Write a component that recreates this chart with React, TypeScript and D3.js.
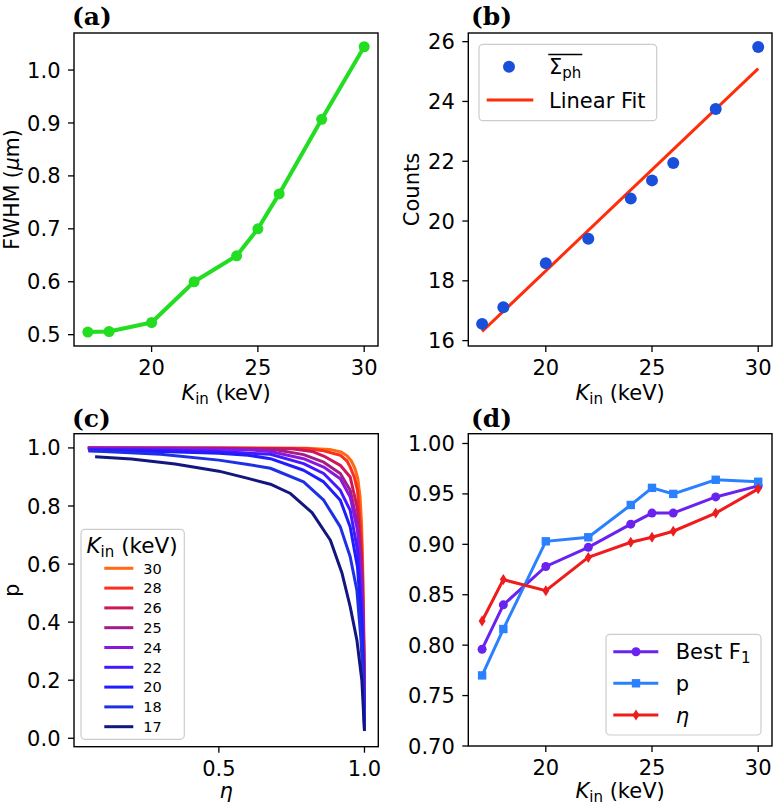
import React from 'react';
import * as d3 from 'd3';

// ---------------- DATA ----------------
const kin = [17, 18, 20, 22, 24, 25, 26, 28, 30];
const fwhm = [0.505, 0.506, 0.523, 0.6, 0.649, 0.7, 0.766, 0.907, 1.044];
const counts = [16.56, 17.12, 18.59, 19.41, 20.75, 21.36, 21.94, 23.75, 25.82];
const bestF1 = [0.796, 0.84, 0.878, 0.897, 0.92, 0.931, 0.931, 0.947, 0.958];
const precision = [0.77, 0.816, 0.903, 0.907, 0.939, 0.956, 0.95, 0.964, 0.962];
const efficiency = [0.824, 0.865, 0.854, 0.887, 0.902, 0.907, 0.913, 0.931, 0.955];

const curveEnergies = [30, 28, 26, 25, 24, 22, 20, 18, 17];
const curveColors = ['#ff6a12', '#fb2f1e', '#cc1858', '#a21d88', '#8a18dc', '#4419ff', '#1d1dff', '#1e30e6', '#12167e'];

// [eta, p] pairs
const prK30 = [[0.05, 1.0], [0.5, 1.0], [0.8, 0.999], [0.88, 0.995], [0.92, 0.986], [0.94, 0.973], [0.955, 0.955], [0.967, 0.93], [0.977, 0.895], [0.985, 0.83], [0.99, 0.74], [0.995, 0.55], [1.0, 0.21]];
const prK28 = [[0.05, 1.0], [0.5, 1.0], [0.8, 0.998], [0.86, 0.99], [0.917, 0.975], [0.94, 0.955], [0.951, 0.934], [0.965, 0.9], [0.976, 0.854], [0.99, 0.682], [0.996, 0.45], [1.0, 0.18]];
const prK26 = [[0.05, 1.0], [0.5, 0.999], [0.75, 0.997], [0.82, 0.988], [0.86, 0.972], [0.917, 0.94], [0.951, 0.9], [0.976, 0.79], [0.99, 0.62], [0.996, 0.4], [1.0, 0.15]];
const prK25 = [[0.05, 1.0], [0.5, 0.998], [0.7, 0.993], [0.791, 0.977], [0.86, 0.951], [0.917, 0.912], [0.951, 0.854], [0.976, 0.74], [0.99, 0.58], [0.996, 0.38], [1.0, 0.12]];
const prK24 = [[0.05, 0.999], [0.4, 0.998], [0.6, 0.994], [0.677, 0.988], [0.791, 0.963], [0.86, 0.934], [0.917, 0.894], [0.951, 0.831], [0.976, 0.717], [0.99, 0.545], [0.996, 0.35], [1.0, 0.1]];
const prK22 = [[0.052, 0.995], [0.3, 0.993], [0.5, 0.988], [0.677, 0.978], [0.791, 0.946], [0.86, 0.912], [0.917, 0.854], [0.951, 0.785], [0.976, 0.648], [0.99, 0.453], [0.996, 0.28], [1.0, 0.06]];
const prK20 = [[0.052, 0.99], [0.3, 0.988], [0.5, 0.982], [0.6, 0.975], [0.677, 0.963], [0.791, 0.923], [0.86, 0.883], [0.917, 0.82], [0.951, 0.728], [0.976, 0.59], [0.99, 0.397], [0.996, 0.22], [1.0, 0.04]];
const prK18 = [[0.052, 0.99], [0.3, 0.978], [0.5, 0.958], [0.6, 0.943], [0.677, 0.93], [0.791, 0.883], [0.86, 0.82], [0.917, 0.728], [0.951, 0.625], [0.974, 0.51], [0.988, 0.338], [0.997, 0.166], [1.0, 0.03]];
const prK17 = [[0.075, 0.97], [0.2, 0.962], [0.35, 0.945], [0.5, 0.92], [0.6, 0.895], [0.677, 0.875], [0.746, 0.843], [0.82, 0.777], [0.883, 0.682], [0.923, 0.568], [0.951, 0.453], [0.974, 0.338], [0.991, 0.2], [1.0, 0.025]];
const prCurves = [prK30, prK28, prK26, prK25, prK24, prK22, prK20, prK18, prK17];

const ticksA_x = [20, 25, 30];
const ticksA_y = [0.5, 0.6, 0.7, 0.8, 0.9, 1.0];
const ticksB_y = [16, 18, 20, 22, 24, 26];
const ticksC_x = [0.5, 1.0];
const ticksC_y = [0.0, 0.2, 0.4, 0.6, 0.8, 1.0];
const ticksD_y = [0.7, 0.75, 0.8, 0.85, 0.9, 0.95, 1.0];

// ---------------- LAYOUT ----------------
const FONT = 'DejaVu Sans';
const TICK_FS = 21;

const boxA = { l: 74, r: 378, t: 33, b: 346 };
const boxB = { l: 468.3, r: 772, t: 33, b: 346 };
const boxC = { l: 74, r: 378.3, t: 433.7, b: 746.7 };
const boxD = { l: 468.3, r: 772, t: 433.7, b: 746 };

const xKin = (box: any) => d3.scaleLinear().domain([16.35, 30.65]).range([box.l, box.r]);

function Frame({ box, x, y, xt, yt, xf, yf }: any) {
  return (
    <g>
      <rect x={box.l} y={box.t} width={box.r - box.l} height={box.b - box.t} fill="none" stroke="#000" strokeWidth={1.4} />
      {xt.map((v: number) => (
        <g key={'x' + v}>
          <line x1={x(v)} x2={x(v)} y1={box.b} y2={box.b + 6} stroke="#000" strokeWidth={1.3} />
          <text x={x(v)} y={box.b + 29} textAnchor="middle" fontSize={TICK_FS} fontFamily={FONT}>{xf(v)}</text>
        </g>
      ))}
      {yt.map((v: number) => (
        <g key={'y' + v}>
          <line x1={box.l - 6} x2={box.l} y1={y(v)} y2={y(v)} stroke="#000" strokeWidth={1.3} />
          <text x={box.l - 13.5} y={y(v)} dy="0.36em" textAnchor="end" fontSize={TICK_FS} fontFamily={FONT}>{yf(v)}</text>
        </g>
      ))}
    </g>
  );
}

function KinLabel({ x, y }: any) {
  return (
    <text x={x} y={y} textAnchor="middle" fontSize={21} fontFamily={FONT}>
      <tspan fontStyle="italic">K</tspan>
      <tspan fontSize={15} dy={3.5}>in</tspan>
      <tspan dy={-3.5}> (keV)</tspan>
    </text>
  );
}

function PanelTitle({ x, y, label }: any) {
  return (
    <text x={x} y={y} fontSize={25} fontWeight="bold" fontFamily="DejaVu Serif">{label}</text>
  );
}

function diamondPath(cx: number, cy: number, w: number, h: number) {
  return `M${cx},${cy - h / 2}L${cx + w / 2},${cy}L${cx},${cy + h / 2}L${cx - w / 2},${cy}Z`;
}

export default function App() {
  // Panel A
  const xa = xKin(boxA);
  const ya = d3.scaleLinear().domain([0.4786, 1.07]).range([boxA.b, boxA.t]);
  const lineA = d3.line<number>().x((_, i) => xa(kin[i])).y((d) => ya(d));

  // Panel B
  const xb = xKin(boxB);
  const yb = d3.scaleLinear().domain([15.82, 26.29]).range([boxB.b, boxB.t]);
  const mx = d3.mean(kin) as number;
  const my = d3.mean(counts) as number;
  const slope = d3.sum(kin.map((k, i) => (k - mx) * (counts[i] - my))) / d3.sum(kin.map((k) => (k - mx) ** 2));
  const fit = (k: number) => my + slope * (k - mx);
  const fitX = d3.extent(kin) as [number, number];

  // Panel C
  const xc = d3.scaleLinear().domain([0.0025, 1.0475]).range([boxC.l, boxC.r]);
  const yc = d3.scaleLinear().domain([-0.029, 1.049]).range([boxC.b, boxC.t]);
  const lineC = d3.line<number[]>().x((d) => xc(d[0])).y((d) => yc(d[1]));

  // Panel D
  const xd = xKin(boxD);
  const yd = d3.scaleLinear().domain([0.7, 1.0097]).range([boxD.b, boxD.t]);
  const lineD = (vals: number[]) => d3.line<number>().x((_, i) => xd(kin[i])).y((d) => yd(d))(vals) as string;

  const colF1 = '#6a22ee';
  const colP = '#2b80ff';
  const colEta = '#ee1c1c';

  const legC_y0 = 568.3;
  const legC_dy = 19.8;

  return (
    <svg width={773} height={807} style={{ position: 'absolute', left: 0, top: 0, background: '#fff' }}>
      <rect x={0} y={0} width={773} height={807} fill="#fff" />

      {/* ---------- Panel (a) ---------- */}
      <PanelTitle x={72} y={25} label="(a)" />
      <Frame box={boxA} x={xa} y={ya} xt={ticksA_x} yt={ticksA_y} xf={(v: number) => String(v)} yf={d3.format('.1f')} />
      <path d={lineA(fwhm) as string} fill="none" stroke="#22dd22" strokeWidth={4} strokeLinejoin="round" />
      {fwhm.map((v, i) => (
        <circle key={i} cx={xa(kin[i])} cy={ya(v)} r={5.5} fill="#22dd22" />
      ))}
      <KinLabel x={(boxA.l + boxA.r) / 2} y={400} />
      <text transform={`translate(19,${(boxA.t + boxA.b) / 2}) rotate(-90)`} textAnchor="middle" fontSize={20.5} fontFamily={FONT}>
        FWHM (<tspan fontStyle="italic">μ</tspan>m)
      </text>

      {/* ---------- Panel (b) ---------- */}
      <PanelTitle x={471} y={25} label="(b)" />
      <Frame box={boxB} x={xb} y={yb} xt={ticksA_x} yt={ticksB_y} xf={(v: number) => String(v)} yf={(v: number) => String(v)} />
      <line x1={xb(fitX[0])} y1={yb(fit(fitX[0]))} x2={xb(fitX[1])} y2={yb(fit(fitX[1]))} stroke="#ff2d0a" strokeWidth={3} />
      {counts.map((v, i) => (
        <circle key={i} cx={xb(kin[i])} cy={yb(v)} r={6} fill="#1a4fdc" />
      ))}
      <KinLabel x={(boxB.l + boxB.r) / 2} y={400} />
      <text transform={`translate(418.5,${(boxB.t + boxB.b) / 2}) rotate(-90)`} textAnchor="middle" fontSize={21} fontFamily={FONT}>Counts</text>
      {/* legend b */}
      <rect x={479} y={44.3} width={177.7} height={76.4} rx={4} fill="#fff" fillOpacity={0.8} stroke="#cccccc" strokeWidth={1.2} />
      <circle cx={509} cy={66.7} r={6} fill="#1a4fdc" />
      <text x={549} y={74} fontSize={21} fontFamily={FONT}>
        Σ<tspan fontSize={15} dy={4}>ph</tspan>
      </text>
      <line x1={548.3} x2={582.3} y1={54.5} y2={54.5} stroke="#000" strokeWidth={1.3} />
      <line x1={486.7} x2={533.3} y1={100} y2={100} stroke="#ff2d0a" strokeWidth={3} />
      <text x={549} y={100} dy="0.36em" fontSize={21} fontFamily={FONT}>Linear Fit</text>

      {/* ---------- Panel (c) ---------- */}
      <PanelTitle x={72} y={426.5} label="(c)" />
      <Frame box={boxC} x={xc} y={yc} xt={ticksC_x} yt={ticksC_y} xf={d3.format('.1f')} yf={d3.format('.1f')} />
      {prCurves.map((c, i) => (
        <path key={i} d={lineC(c) as string} fill="none" stroke={curveColors[i]} strokeWidth={3} strokeLinejoin="round" />
      ))}
      <text x={(boxC.l + boxC.r) / 2} y={798} textAnchor="middle" fontSize={21} fontFamily={FONT} fontStyle="italic">η</text>
      <text transform={`translate(19,${(boxC.t + boxC.b) / 2}) rotate(-90)`} textAnchor="middle" fontSize={20.5} fontFamily={FONT}>p</text>
      {/* legend c */}
      <rect x={81} y={529.3} width={103.3} height={210} rx={4} fill="#fff" fillOpacity={0.8} stroke="#cccccc" strokeWidth={1.2} />
      <text x={86.5} y={553.3} fontSize={21.5} fontFamily={FONT}>
        <tspan fontStyle="italic">K</tspan>
        <tspan fontSize={15} dy={4}>in</tspan>
        <tspan dy={-4}> (keV)</tspan>
      </text>
      {curveEnergies.map((e, i) => (
        <g key={e}>
          <line x1={104.3} x2={133.3} y1={legC_y0 + i * legC_dy} y2={legC_y0 + i * legC_dy} stroke={curveColors[i]} strokeWidth={3} />
          <text x={143.3} y={legC_y0 + i * legC_dy} dy="0.36em" fontSize={14.5} fontFamily={FONT}>{e}</text>
        </g>
      ))}

      {/* ---------- Panel (d) ---------- */}
      <PanelTitle x={471} y={426.5} label="(d)" />
      <Frame box={boxD} x={xd} y={yd} xt={ticksA_x} yt={ticksD_y} xf={(v: number) => String(v)} yf={d3.format('.2f')} />
      <path d={lineD(bestF1)} fill="none" stroke={colF1} strokeWidth={3} />
      {bestF1.map((v, i) => (
        <circle key={i} cx={xd(kin[i])} cy={yd(v)} r={4.5} fill={colF1} />
      ))}
      <path d={lineD(precision)} fill="none" stroke={colP} strokeWidth={3} />
      {precision.map((v, i) => (
        <rect key={i} x={xd(kin[i]) - 4.2} y={yd(v) - 4.2} width={8.4} height={8.4} fill={colP} />
      ))}
      <path d={lineD(efficiency)} fill="none" stroke={colEta} strokeWidth={3} />
      {efficiency.map((v, i) => (
        <path key={i} d={diamondPath(xd(kin[i]), yd(v), 7, 11)} fill={colEta} />
      ))}
      <KinLabel x={(boxD.l + boxD.r) / 2} y={798} />
      {/* legend d */}
      <rect x={606} y={634.3} width={155} height={100.7} rx={4} fill="#fff" fillOpacity={0.8} stroke="#cccccc" strokeWidth={1.2} />
      <line x1={613.3} x2={658.3} y1={651.7} y2={651.7} stroke={colF1} strokeWidth={3} />
      <circle cx={636} cy={651.7} r={4.5} fill={colF1} />
      <text x={675.7} y={651.7} dy="0.36em" fontSize={21} fontFamily={FONT}>
        Best F<tspan fontSize={15} dy={4}>1</tspan>
      </text>
      <line x1={613.3} x2={658.3} y1={683.3} y2={683.3} stroke={colP} strokeWidth={3} />
      <rect x={636 - 4.2} y={683.3 - 4.2} width={8.4} height={8.4} fill={colP} />
      <text x={675.7} y={683.3} dy="0.36em" fontSize={21} fontFamily={FONT}>p</text>
      <line x1={613.3} x2={658.3} y1={715} y2={715} stroke={colEta} strokeWidth={3} />
      <path d={diamondPath(636, 715, 7, 11)} fill={colEta} />
      <text x={675.7} y={715} dy="0.36em" fontSize={21} fontFamily={FONT} fontStyle="italic">η</text>
    </svg>
  );
}
